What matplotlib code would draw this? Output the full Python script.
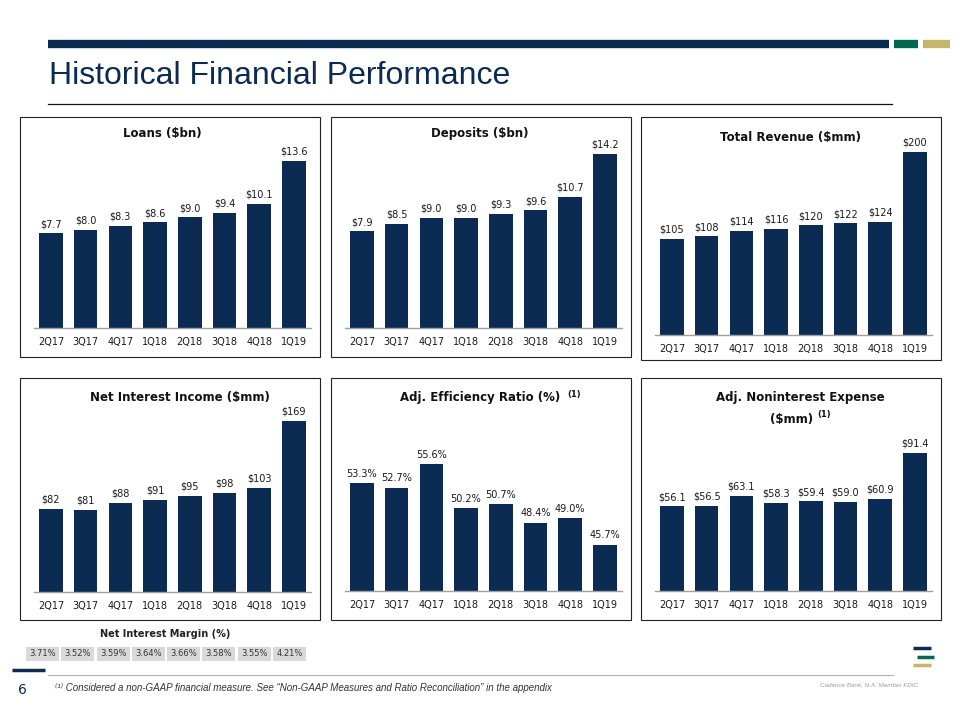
import matplotlib
matplotlib.use('Agg')
import matplotlib.pyplot as plt
from matplotlib.patches import Rectangle
from matplotlib.lines import Line2D

# 数据
quarters = ['2Q17', '3Q17', '4Q17', '1Q18', '2Q18', '3Q18', '4Q18', '1Q19']
loans = [7.7, 8.0, 8.3, 8.6, 9.0, 9.4, 10.1, 13.6]
deposits = [7.9, 8.5, 9.0, 9.0, 9.3, 9.6, 10.7, 14.2]
total_revenue = [105, 108, 114, 116, 120, 122, 124, 200]
net_interest_income = [82, 81, 88, 91, 95, 98, 103, 169]
efficiency_ratio = [53.3, 52.7, 55.6, 50.2, 50.7, 48.4, 49.0, 45.7]
nonint_expense = [56.1, 56.5, 63.1, 58.3, 59.4, 59.0, 60.9, 91.4]
nim = [3.71, 3.52, 3.59, 3.64, 3.66, 3.58, 3.55, 4.21]

NAVY = '#0b2b52'
GREEN = '#00694f'
GOLD = '#c9b46c'
W, H = 960, 720

plt.rcParams['font.family'] = ['DejaVu Sans']
fig = plt.figure(figsize=(9.6, 7.2), dpi=100)


def px_axes(l, t, r, b):
    # 像素坐标 -> figure 坐标
    return fig.add_axes([l / W, 1 - b / H, (r - l) / W, (b - t) / H])


def fig_line(x0, x1, y0, y1, **kw):
    fig.add_artist(Line2D([x0 / W, x1 / W], [1 - y0 / H, 1 - y1 / H],
                          transform=fig.transFigure, **kw))


def fig_text(x, y, s, **kw):
    fig.text(x / W, 1 - y / H, s, **kw)


def panel(box, baseline, top, values, fmt, ylo=0):
    l, t, r, b = box
    fig.add_artist(Rectangle((l / W, 1 - b / H), (r - l) / W, (b - t) / H,
                             transform=fig.transFigure, fill=False,
                             edgecolor='#222222', lw=0.8))
    ax = px_axes(l + 13.6, top, l + 13.6 + 277.6, baseline)
    bars = ax.bar(range(len(quarters)), values, width=0.68, color=NAVY)
    ax.set_xlim(-0.5, 7.5)
    ax.set_ylim(ylo, max(values))
    for rect, v in zip(bars, values):
        ax.annotate(fmt.format(v), (rect.get_x() + rect.get_width() / 2, v),
                    xytext=(0, 3), textcoords='offset points',
                    ha='center', va='bottom', fontsize=7, color='#1a1a1a',
                    annotation_clip=False)
    ax.set_xticks(range(len(quarters)))
    ax.set_xticklabels(quarters)
    ax.set_yticks([])
    for s in ['top', 'left', 'right']:
        ax.spines[s].set_visible(False)
    ax.spines['bottom'].set_color('#a0a0a0')
    ax.spines['bottom'].set_linewidth(1)
    ax.tick_params(axis='x', length=0, pad=6.5, labelsize=7, labelcolor='#1a1a1a')
    ax.patch.set_alpha(0)
    return ax


# 标题栏
fig_line(48, 889, 44, 44, color=NAVY, lw=6, solid_capstyle='butt')
fig_line(894, 918, 44, 44, color=GREEN, lw=6, solid_capstyle='butt')
fig_line(923, 950, 44, 44, color=GOLD, lw=6, solid_capstyle='butt')
fig_text(49, 76, 'Historical Financial Performance', fontsize=23, color=NAVY,
         va='center', ha='left', family=['Liberation Sans', 'DejaVu Sans'])
fig_line(48, 892, 104, 104, color='#111111', lw=0.9)

# 六个图
panel((20, 117, 320, 357), 328, 161, loans, '${:.1f}')
panel((331, 117, 631, 357), 328, 154, deposits, '${:.1f}')
panel((641, 117, 941, 360), 335, 152, total_revenue, '${:.0f}')
panel((20, 378, 320, 620), 592, 421, net_interest_income, '${:.0f}')
panel((331, 378, 631, 620), 591, 464, efficiency_ratio, '{:.1f}%', ylo=40)
panel((641, 378, 941, 620), 591, 453, nonint_expense, '${:.1f}')

tkw = dict(fontsize=8.5, fontweight='bold', color='#111111', ha='center', va='center')
skw = dict(fontsize=6, fontweight='bold', color='#111111', ha='center', va='center')
fig_text(162, 134, 'Loans ($bn)', **tkw)
fig_text(480, 133, 'Deposits ($bn)', **tkw)
fig_text(790, 137, 'Total Revenue ($mm)', **tkw)
fig_text(180, 397, 'Net Interest Income ($mm)', **tkw)
fig_text(480, 397, 'Adj. Efficiency Ratio (%)', **tkw)
fig_text(574, 394, '(1)', **skw)
fig_text(800, 398, 'Adj. Noninterest Expense', **tkw)
fig_text(792, 419, '($mm)', **tkw)
fig_text(824, 415, '(1)', **skw)

# 净息差表格
fig_text(165, 634, 'Net Interest Margin (%)', fontsize=7, fontweight='bold',
         color='#222222', ha='center', va='center')
tax = px_axes(25, 647, 307, 661)
tax.bar(range(len(nim)), [1] * len(nim), width=0.94, color='#d9d9d9')
for i, v in enumerate(nim):
    tax.text(i, 0.5, '{:.2f}%'.format(v), ha='center', va='center',
             fontsize=6, color='#333333')
tax.set_xlim(-0.5, 7.5)
tax.set_ylim(0, 1)
tax.axis('off')

# 页脚
fig_line(12, 45, 670, 670, color=NAVY, lw=2.5, solid_capstyle='butt')
fig_line(48, 893, 675, 675, color='#b0b0b0', lw=0.8)
fig_text(22, 690, '6', fontsize=10, color=NAVY, ha='center', va='center')
fig_text(55, 688, '⁽¹⁾ Considered a non-GAAP financial measure. See “Non-GAAP Measures and Ratio Reconciliation” in the appendix',
         fontsize=7, style='italic', color='#333333', ha='left', va='center',
         family=['Liberation Sans', 'DejaVu Sans'])
fig_text(918, 685, 'Cadence Bank, N.A. Member FDIC', fontsize=4.5, style='italic',
         color='#999999', ha='right', va='center', family=['Liberation Sans', 'DejaVu Sans'])

# logo
fig_line(913, 931, 648, 648, color=NAVY, lw=2.5, solid_capstyle='butt')
fig_line(917, 934, 657, 657, color=GREEN, lw=2.5, solid_capstyle='butt')
fig_line(913, 931, 665, 665, color=GOLD, lw=2.5, solid_capstyle='butt')

plt.savefig('out.png', dpi=100)
